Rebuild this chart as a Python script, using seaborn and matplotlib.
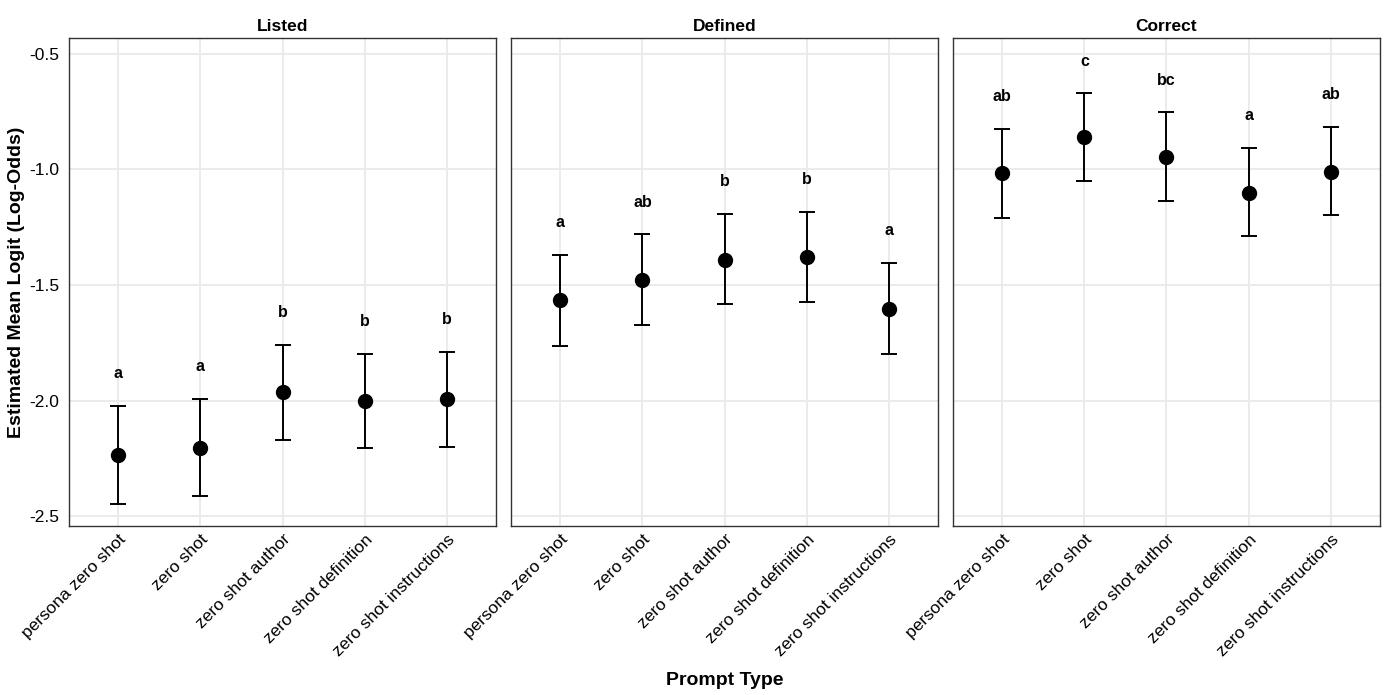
import numpy as np
import pandas as pd
import matplotlib
matplotlib.use("Agg")
import matplotlib.pyplot as plt
import seaborn as sns

# --- datos ---
prompt_types = ["persona zero shot", "zero shot", "zero shot author",
                "zero shot definition", "zero shot instructions"]
measures = ["Listed", "Defined", "Correct"]

listed_est = [-2.234, -2.205, -1.965, -2.000, -1.995]
listed_low = [-2.446, -2.414, -2.172, -2.207, -2.203]
listed_up = [-2.022, -1.994, -1.760, -1.797, -1.790]
listed_letters = ["a", "a", "b", "b", "b"]

defined_est = [-1.563, -1.480, -1.390, -1.377, -1.603]
defined_low = [-1.762, -1.675, -1.584, -1.573, -1.800]
defined_up = [-1.368, -1.281, -1.192, -1.182, -1.403]
defined_letters = ["a", "ab", "b", "b", "a"]

correct_est = [-1.017, -0.861, -0.944, -1.100, -1.009]
correct_low = [-1.208, -1.052, -1.136, -1.290, -1.197]
correct_up = [-0.823, -0.671, -0.753, -0.905, -0.814]
correct_letters = ["ab", "c", "bc", "a", "ab"]

letter_offset = 0.14

rows = []
for m, est, low, up, let in [
    ("Listed", listed_est, listed_low, listed_up, listed_letters),
    ("Defined", defined_est, defined_low, defined_up, defined_letters),
    ("Correct", correct_est, correct_low, correct_up, correct_letters),
]:
    for p, e, lo, hi, l in zip(prompt_types, est, low, up, let):
        rows.append({"measure": m, "prompt": p, "est": e, "low": lo, "up": hi, "letter": l})
df = pd.DataFrame(rows)

# --- estilo ---
sns.set_style("white")
plt.rcParams["font.family"] = ["Liberation Sans", "DejaVu Sans"]
plt.rcParams["text.color"] = "black"

fig, axes = plt.subplots(1, 3, figsize=(13.89, 6.95), dpi=100, sharey=True)
fig.subplots_adjust(left=0.0497, right=0.9935, top=0.9453, bottom=0.2432, wspace=0.035)

for ax, m in zip(axes, measures):
    sub = df[df["measure"] == m].set_index("prompt").loc[prompt_types].reset_index()
    pos = np.arange(len(prompt_types))
    ax.errorbar(pos, sub["est"], yerr=[sub["est"] - sub["low"], sub["up"] - sub["est"]],
                fmt="none", ecolor="black", elinewidth=1.4, capsize=6, capthick=1.4, zorder=3)
    sns.pointplot(data=sub, x="prompt", y="est", order=prompt_types, color="black",
                  linestyle="none", errorbar=None, markers="o", markersize=9, ax=ax, zorder=4)
    for x, u, l in zip(pos, sub["up"], sub["letter"]):
        ax.text(x, u + letter_offset, l, ha="center", va="center", fontsize=11.5,
                fontweight="bold", color="black")

    ax.set_xlim(-0.6, len(prompt_types) - 0.4)
    ax.set_ylim(-2.543, -0.431)
    ax.set_yticks([-2.5, -2.0, -1.5, -1.0, -0.5])
    ax.set_yticklabels(["-2.5", "-2.0", "-1.5", "-1.0", "-0.5"])
    ax.grid(True, color="#EBEBEB", linewidth=1.4)
    ax.set_axisbelow(True)
    for s in ax.spines.values():
        s.set_color("#333333")
        s.set_linewidth(1.0)
    ax.tick_params(length=0, labelsize=12.5, colors="black", pad=4)
    ax.tick_params(axis="y", pad=7)
    ax.set_xticks(pos)
    ax.set_xticklabels(prompt_types, rotation=45, ha="right", rotation_mode="anchor", fontsize=12.5)
    ax.set_xlabel("")
    ax.set_ylabel("")
    ax.set_title(m, fontsize=12.5, fontweight="bold", pad=5, color="black")

fig.supxlabel("Prompt Type", fontsize=14, fontweight="bold", x=0.5215, y=0.008, color="black")
fig.supylabel("Estimated Mean Logit (Log-Odds)", fontsize=14, fontweight="bold",
              x=0.006, y=0.594, color="black")

fig.savefig("out.png", dpi=100)
